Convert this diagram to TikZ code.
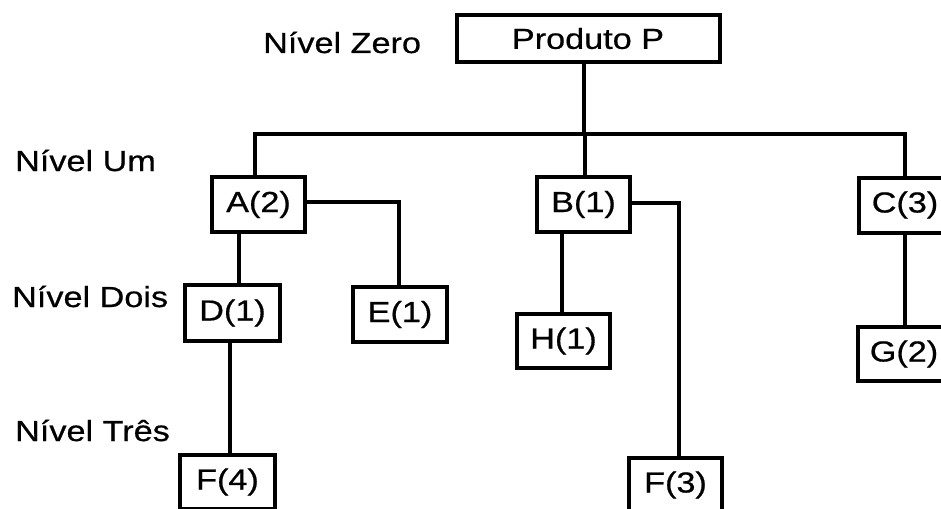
\documentclass[tikz,border=0pt]{standalone}
\usepackage{fontspec}
\setmainfont{Liberation Sans}[FakeStretch=1.18,FakeBold=0.6]
\begin{document}
\begin{tikzpicture}[x=1pt,y=-1pt,
  box/.style={draw=black, line width=4pt, minimum width=93pt, minimum height=55pt, inner sep=0pt, font=\fontsize{29}{29}\selectfont},
  conn/.style={draw=black, line width=4pt, line join=miter},
  lvl/.style={anchor=base west, inner sep=0pt, font=\fontsize{29}{29}\selectfont}]
\useasboundingbox (0,0) rectangle (941,508);
% boxes
\node[box, minimum width=263pt, minimum height=47pt] (P) at (588,38.5) {Produto P};
\node[box] (A) at (258.5,204.5) {A(2)};
\node[box] (B) at (583.5,204.5) {B(1)};
\node[box] (C) at (905,205) {C(3)};
\node[box, minimum width=95pt, minimum height=56pt] (D) at (232.5,313) {D(1)};
\node[box, minimum width=94pt] (E) at (400,314.5) {E(1)};
\node[box, minimum height=54pt] (H) at (563.5,341) {H(1)};
\node[box, minimum height=54pt] (G) at (904,354) {G(2)};
\node[box, minimum width=95pt, minimum height=54pt] (F4) at (227.5,482) {F(4)};
\node[box, minimum height=54pt] (F3) at (675.5,485) {F(3)};
% level labels
\node[lvl] (L0) at (263,53) {Nível Zero};
\node[lvl] (L1) at (15,171) {Nível Um};
\node[lvl] (L2) at (12,307) {Nível Dois};
\node[lvl] (L3) at (15,441) {Nível Três};
% junction coordinates
\coordinate (jP) at (584,134);
\coordinate (jA) at (255,134);
\coordinate (jB) at (585,134);
\coordinate (jC) at (905,134);
\coordinate (eA) at (399,202);
\coordinate (eB) at (679,203);
\coordinate (xAD) at (239,0);
\coordinate (xBH) at (562,0);
\coordinate (xDF) at (230,0);
% connectors
\draw[conn] (P.south -| jP) -- (jP);
\draw[conn] (jA |- A.north) -- (jA) -- (jC) -- (jC |- C.north);
\draw[conn] (jB) -- (jB |- B.north);
\draw[conn] (A.east |- eA) -- (eA) -- (eA |- E.north);
\draw[conn] (xAD |- A.south) -- (xAD |- D.north);
\draw[conn] (B.east |- eB) -- (eB) -- (eB |- F3.north);
\draw[conn] (xBH |- B.south) -- (xBH |- H.north);
\draw[conn] (jC |- C.south) -- (jC |- G.north);
\draw[conn] (xDF |- D.south) -- (xDF |- F4.north);
\end{tikzpicture}
\end{document}
